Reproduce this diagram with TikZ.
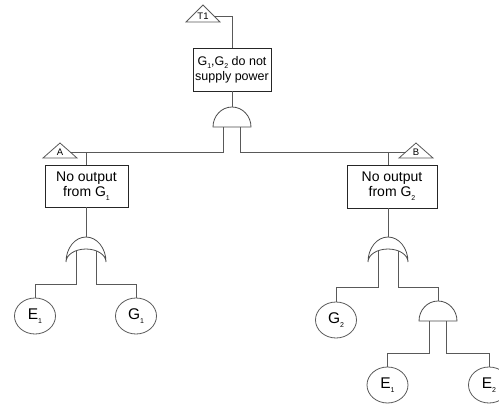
\documentclass[tikz,border=0pt]{standalone}
\usepackage{fontspec}
\setmainfont{Liberation Sans}
\usetikzlibrary{shapes.geometric}
% small lowered index digit
\newcommand\lo[1]{\raisebox{-0.5ex}{\fontsize{7}{7}\selectfont #1}}
\begin{document}
\begin{tikzpicture}[x=1pt,y=-1pt,
  wire/.style={draw=black!65, line width=0.8pt},
  gateline/.style={draw=black!70, line width=0.8pt, fill=white},
  event/.style={draw=black!85, line width=0.8pt, fill=white, inner sep=0pt,
    align=center, font=\fontsize{14}{15}\selectfont},
  basic/.style={ellipse, draw=black!65, line width=0.8pt, fill=white, inner sep=0pt,
    minimum width=41, minimum height=36, font=\fontsize{15.5}{15.5}\selectfont},
  % AND gate: origin at the middle of the flat base
  pics/andgate/.style={code={
    \draw[gateline] (-19,0) arc[start angle=180, end angle=360, x radius=19, y radius=20] -- cycle;
    \coordinate (-out) at (0,-20);
    \coordinate (-inl) at (-8.5,0);
    \coordinate (-inr) at (8.5,0);
  }},
  % OR gate: origin midway between the two tips
  pics/orgate/.style={code={
    \draw[gateline] (-20,0) arc[start angle=180, end angle=360, x radius=20, y radius=25]
      arc[start angle=0, end angle=-180, x radius=20, y radius=13] -- cycle;
    \coordinate (-out) at (0,-25);
    \coordinate (-inl) at (-10,-11.3);
    \coordinate (-inr) at (10,-11.3);
  }},
  % transfer triangle: origin at the middle of the base
  pics/xfer/.style 2 args={code={
    \draw[draw=black!65, line width=0.8pt, fill=white] (-17,0) -- (0,-#2) -- (17,0) -- cycle;
    \node[inner sep=0pt, font=\fontsize{9.5}{9.5}\selectfont] (-txt) at (0,-6.2) {#1};
    \coordinate (-l) at ({-17*(1-6/#2)},-6);
    \coordinate (-r) at ({17*(1-6/#2)},-6);
  }}
]
\useasboundingbox (0,0) rectangle (499,405);

% events
\node[event, font=\fontsize{12.5}{15}\selectfont, minimum width=78, minimum height=43]
  (top) at (232,69.5) {G\lo1,G\lo2 do not\\supply power};
\node[event, minimum width=83, minimum height=42] (noA) at (86.5,186) {No output\\from G\lo1};
\node[event, minimum width=90, minimum height=43] (noB) at (392,186.5) {No output\\from G\lo2};

% transfer symbols
\pic (T1) at (203,22) {xfer={T1}{17}};
\pic (A) at (60,158) {xfer={A}{15}};
\pic (B) at (416,158) {xfer={B}{15}};

% gates
\pic (gT) at (232,127) {andgate};
\pic (gA) at (86,262) {orgate};
\pic (gB) at (388,262) {orgate};
\pic (gC) at (438,321) {andgate};

% basic events
\node[basic] (e1) at (35,316) {E\lo1};
\node[basic] (g1) at (136,316) {G\lo1};
\node[basic] (g2) at (336,320) {G\lo2};
\node[basic] (e1b) at (387.5,385) {E\lo1};
\node[basic] (e2) at (489,385) {E\lo2};

% bus levels
\coordinate (busA) at (0,284);
\coordinate (busB) at (0,287);
\coordinate (busC) at (0,353);

% connectors
\draw[wire] (T1-r) -| (top.north);
\draw[wire] (top.south) -- (gT-out);
\draw[wire] (gT-inl) |- (A-r);
\draw[wire] (gT-inr) |- (B-l);
\draw[wire] (gA-out |- A-r) -- (gA-out |- noA.north);
\draw[wire] (gB-out |- B-l) -- (gB-out |- noB.north);
\draw[wire] (gA-out |- noA.south) -- (gA-out);
\draw[wire] (gB-out |- noB.south) -- (gB-out);
\draw[wire] (gA-inl) -- (gA-inl |- busA) -| (e1.north);
\draw[wire] (gA-inr) -- (gA-inr |- busA) -| (g1.north);
\draw[wire] (gB-inl) -- (gB-inl |- busB) -| (g2.north);
\draw[wire] (gB-inr) -- (gB-inr |- busB) -| (gC-out);
\draw[wire] (gC-inl) -- (gC-inl |- busC) -| (e1b.north);
\draw[wire] (gC-inr) -- (gC-inr |- busC) -| (e2.north);
\end{tikzpicture}
\end{document}
